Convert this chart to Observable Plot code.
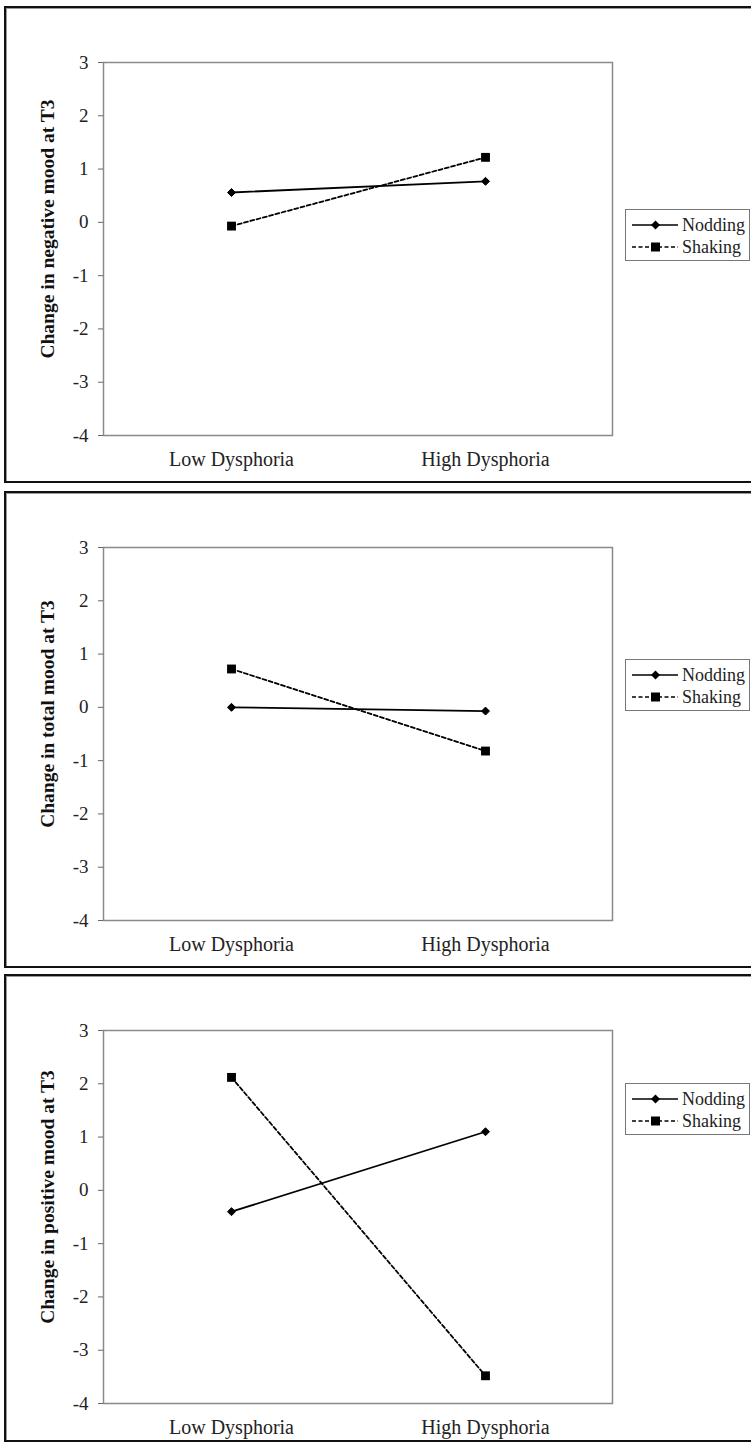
<!DOCTYPE html>
<html><head><meta charset="utf-8">
<script src="https://cdn.jsdelivr.net/npm/d3@7"></script>
<script src="https://cdn.jsdelivr.net/npm/@observablehq/plot@0.6"></script>
<style>
html,body{margin:0;padding:0;background:#fff;}
body{width:751px;height:1444px;overflow:hidden;position:relative;}
.panel{position:absolute;left:4px;width:800px;border:2px solid #111;box-shadow:inset 1px 1px 0 #999;box-sizing:border-box;background:#fff;}
.plotwrap{position:absolute;left:0;width:751px;}
.plotwrap svg, .plotwrap svg text{font-family:"Liberation Serif","Times New Roman",serif !important;}
.legend{position:absolute;left:625px;width:125px;height:52px;border:1px solid #777;box-sizing:border-box;background:#fff;font-family:"Liberation Serif",serif;font-size:18px;color:#222;}
.legend .row{position:absolute;left:0;height:22px;display:flex;align-items:center;}
.legend svg{display:block;}
</style></head>
<body>
<script>
// ---- data ----
const categories = ["Low Dysphoria", "High Dysphoria"];
const seriesNames = ["Nodding", "Shaking"];
const yTicks = [-4, -3, -2, -1, 0, 1, 2, 3];
const titles = ["Change in negative mood at T3", "Change in total mood at T3", "Change in positive mood at T3"];
const negNodding = [0.56, 0.77];
const negShaking = [-0.07, 1.22];
const totNodding = [0.00, -0.07];
const totShaking = [0.72, -0.82];
const posNodding = [-0.40, 1.10];
const posShaking = [2.12, -3.48];

const panels = [
  {title: titles[0], nod: negNodding, sha: negShaking, top: 6, h: 477, legTop: 209},
  {title: titles[1], nod: totNodding, sha: totShaking, top: 491, h: 477, legTop: 659},
  {title: titles[2], nod: posNodding, sha: posShaking, top: 974, h: 468, legTop: 1083}
];

const font = '"Liberation Serif", "Times New Roman", serif';

for (const p of panels) {
  const panel = document.createElement("div");
  panel.className = "panel";
  panel.style.top = p.top + "px";
  panel.style.height = p.h + "px";
  document.body.appendChild(panel);

  const nodData = categories.map((c, i) => ({cat: c, v: p.nod[i]}));
  const shaData = categories.map((c, i) => ({cat: c, v: p.sha[i]}));

  const chart = Plot.plot({
    width: 751,
    height: 477,
    marginLeft: 103,
    marginRight: 139,
    marginTop: 56,
    marginBottom: 48,
    style: {fontFamily: font, fontSize: "19px", color: "#222", background: "transparent", overflow: "visible"},
    x: {type: "point", domain: categories, padding: 0.5},
    y: {domain: [-4, 3]},
    marks: [
      Plot.frame({stroke: "#8a8a8a", strokeWidth: 1.5}),
      Plot.axisY({ticks: yTicks, tickSize: 5, tickPadding: 10, tickFormat: d => String(d), label: null, stroke: "#666", fontSize: 19, fontFamily: font}),
      Plot.axisX({tickSize: 0, tickPadding: 16, label: null, fontSize: 20, fontFamily: font}),
      Plot.text([p.title], {frameAnchor: "left", textAnchor: "middle", rotate: -90, dx: -56, dy: -20, fontWeight: "bold", fontSize: 19.5, fontFamily: font, fill: "#111"}),
      Plot.line(nodData, {x: "cat", y: "v", stroke: "#000", strokeWidth: 1.8}),
      Plot.line(shaData, {x: "cat", y: "v", stroke: "#000", strokeWidth: 1.8, strokeDasharray: "4,2.5"}),
      Plot.dot(nodData, {x: "cat", y: "v", symbol: "diamond2", r: 3.6, fill: "#000", stroke: "#000", strokeWidth: 1}),
      Plot.dot(shaData, {x: "cat", y: "v", symbol: "square", r: 5, fill: "#000", stroke: "none"})
    ]
  });
  const wrap = document.createElement("div");
  wrap.className = "plotwrap";
  wrap.style.top = p.top + "px";
  wrap.appendChild(chart);
  document.body.appendChild(wrap);

  // legend
  const leg = document.createElement("div");
  leg.className = "legend";
  leg.style.top = p.legTop + "px";
  const rows = [
    {name: seriesNames[0], dash: null, sym: "diamond"},
    {name: seriesNames[1], dash: "4,2.5", sym: "square"}
  ];
  rows.forEach((r, i) => {
    const row = document.createElement("div");
    row.className = "row";
    row.style.top = (4 + i * 22) + "px";
    const ns = "http://www.w3.org/2000/svg";
    const s = document.createElementNS(ns, "svg");
    s.setAttribute("width", 56); s.setAttribute("height", 22);
    const ln = document.createElementNS(ns, "line");
    ln.setAttribute("x1", 6); ln.setAttribute("x2", 52); ln.setAttribute("y1", 11); ln.setAttribute("y2", 11);
    ln.setAttribute("stroke", "#000"); ln.setAttribute("stroke-width", 1.6);
    if (r.dash) ln.setAttribute("stroke-dasharray", r.dash);
    s.appendChild(ln);
    const m = document.createElementNS(ns, "path");
    if (r.sym === "square") m.setAttribute("d", "M25,6.5h9v9h-9z");
    else m.setAttribute("d", "M29.5,6.5l4.5,4.5l-4.5,4.5l-4.5,-4.5z");
    m.setAttribute("fill", "#000");
    s.appendChild(m);
    row.appendChild(s);
    const t = document.createElement("span");
    t.textContent = r.name;
    row.appendChild(t);
    leg.appendChild(row);
  });
  document.body.appendChild(leg);
}
</script>
</body></html>
